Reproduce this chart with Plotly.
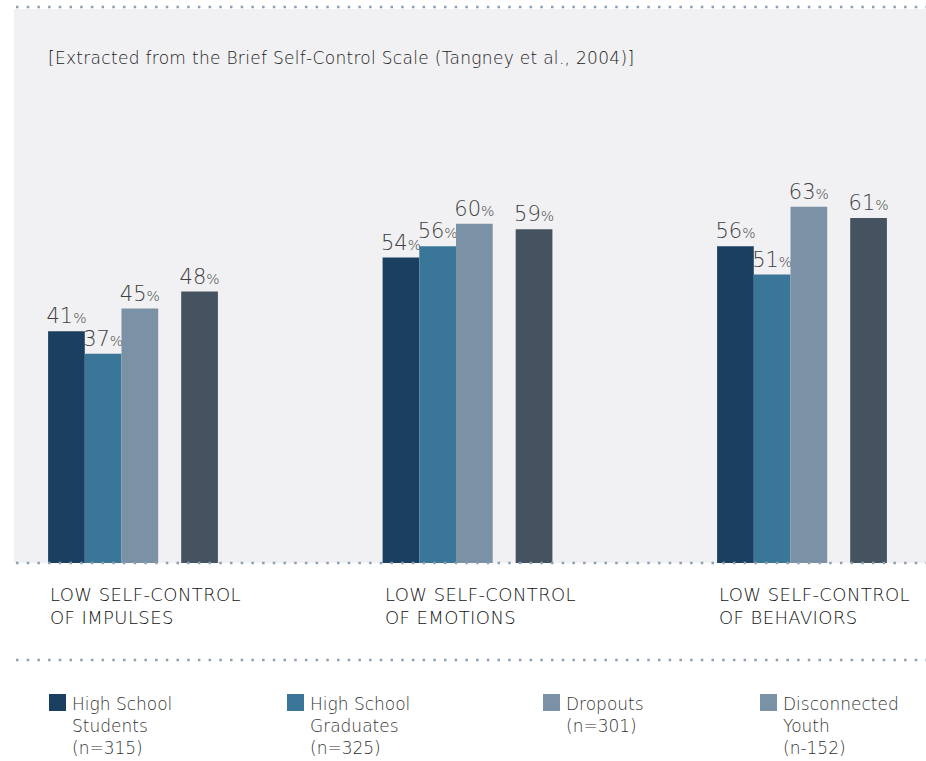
import plotly.graph_objects as go

# ---- data ----
categories = ["LOW SELF-CONTROL<br>OF IMPULSES",
              "LOW SELF-CONTROL<br>OF EMOTIONS",
              "LOW SELF-CONTROL<br>OF BEHAVIORS"]
series_names = ["High School Students", "High School Graduates",
                "Dropouts", "Disconnected Youth"]
legend_labels = ["High School<br>Students<br>(n=315)",
                 "High School<br>Graduates<br>(n=325)",
                 "Dropouts<br>(n=301)",
                 "Disconnected<br>Youth<br>(n-152)"]
hs_students = [41, 54, 56]
hs_graduates = [37, 56, 51]
dropouts = [45, 60, 63]
disconnected = [48, 59, 61]
values = [hs_students, hs_graduates, dropouts, disconnected]
title_text = "[Extracted from the Brief Self-Control Scale (Tangney et al., 2004)]"

# ---- styles ----
bar_colors = ["#1b3f61", "#3a7698", "#7b91a5", "#44535f"]
legend_colors = ["#1b3f61", "#3a7698", "#7b91a5", "#7b91a5"]
FONT = "DejaVu Sans"
LIGHT = 200
W, H = 926, 761


def spaced(text, px_):
    return f"<span style='letter-spacing:{px_}px'>{text}</span>"


# bar geometry in category units (one unit between category centres)
BAR_W = 0.1097
GAP = 0.0688
group_left = -(4 * BAR_W + GAP) / 2
offsets = [group_left + i * BAR_W for i in range(3)] + [group_left + 3 * BAR_W + GAP]

x_idx = list(range(len(categories)))

fig = go.Figure()
for name, vals, col, off in zip(series_names, values, bar_colors, offsets):
    fig.add_trace(go.Bar(
        x=x_idx, y=vals, name=name,
        width=BAR_W, offset=off,
        marker=dict(color=col, line=dict(width=0)),
        text=[f"{v}<span style='font-size:14px'>%</span>" for v in vals],
        textposition="outside",
        constraintext="none",
        cliponaxis=False,
        textfont=dict(family=FONT, size=21, color="#404040", weight=LIGHT),
        showlegend=False,
        hoverinfo="skip",
    ))


def py(p):
    """pixel row -> paper y"""
    return 1 - p / H


def px(p):
    return p / W


shapes = []
# dotted rules
for row in (7, 563, 660):
    shapes.append(dict(type="line", xref="paper", yref="paper",
                       x0=px(16), x1=1, y0=py(row), y1=py(row),
                       line=dict(color="#8aa0b4", width=2.5, dash="2.5px,8.2px")))

annotations = [dict(text=spaced(title_text, 0.3), xref="paper", yref="paper",
                    x=px(46), y=py(58), xanchor="left", yanchor="middle",
                    showarrow=False,
                    font=dict(family=FONT, size=17, color="#222222", weight=LIGHT))]

# category labels, left-aligned under each bar group
for i, cat in enumerate(categories):
    annotations.append(dict(text=spaced(cat, 0.4), xref="x", yref="paper",
                            x=i + group_left, y=py(606), xanchor="left",
                            yanchor="middle", align="left", showarrow=False,
                            font=dict(family=FONT, size=18, color="#111111", weight=LIGHT)))

# legend
legend_x = [49, 287, 543, 760]
for lx, lab, col in zip(legend_x, legend_labels, legend_colors):
    shapes.append(dict(type="rect", xref="paper", yref="paper",
                       x0=px(lx), x1=px(lx + 17), y0=py(711), y1=py(694),
                       fillcolor=col, line=dict(width=0)))
    annotations.append(dict(text=lab, xref="paper", yref="paper",
                            x=px(lx + 21), y=py(692), xanchor="left",
                            yanchor="top", align="left", showarrow=False,
                            font=dict(family=FONT, size=17, color="#333333", weight=LIGHT)))

SPAN = 334.5      # pixels per category unit
CENTER0 = 133     # pixel column of the first group centre
fig.update_layout(
    width=W, height=H,
    margin=dict(l=0, r=0, t=0, b=0),
    paper_bgcolor="white",
    plot_bgcolor="#f1f1f3",
    barmode="overlay",
    xaxis=dict(domain=[px(14), 1],
               range=[(14 - CENTER0) / SPAN, (W - CENTER0) / SPAN],
               visible=False, fixedrange=True),
    yaxis=dict(domain=[py(563), py(9)], range=[0, 97.96],
               visible=False, fixedrange=True),
    shapes=shapes,
    annotations=annotations,
    font=dict(family=FONT),
)

fig.write_html("out.html")
